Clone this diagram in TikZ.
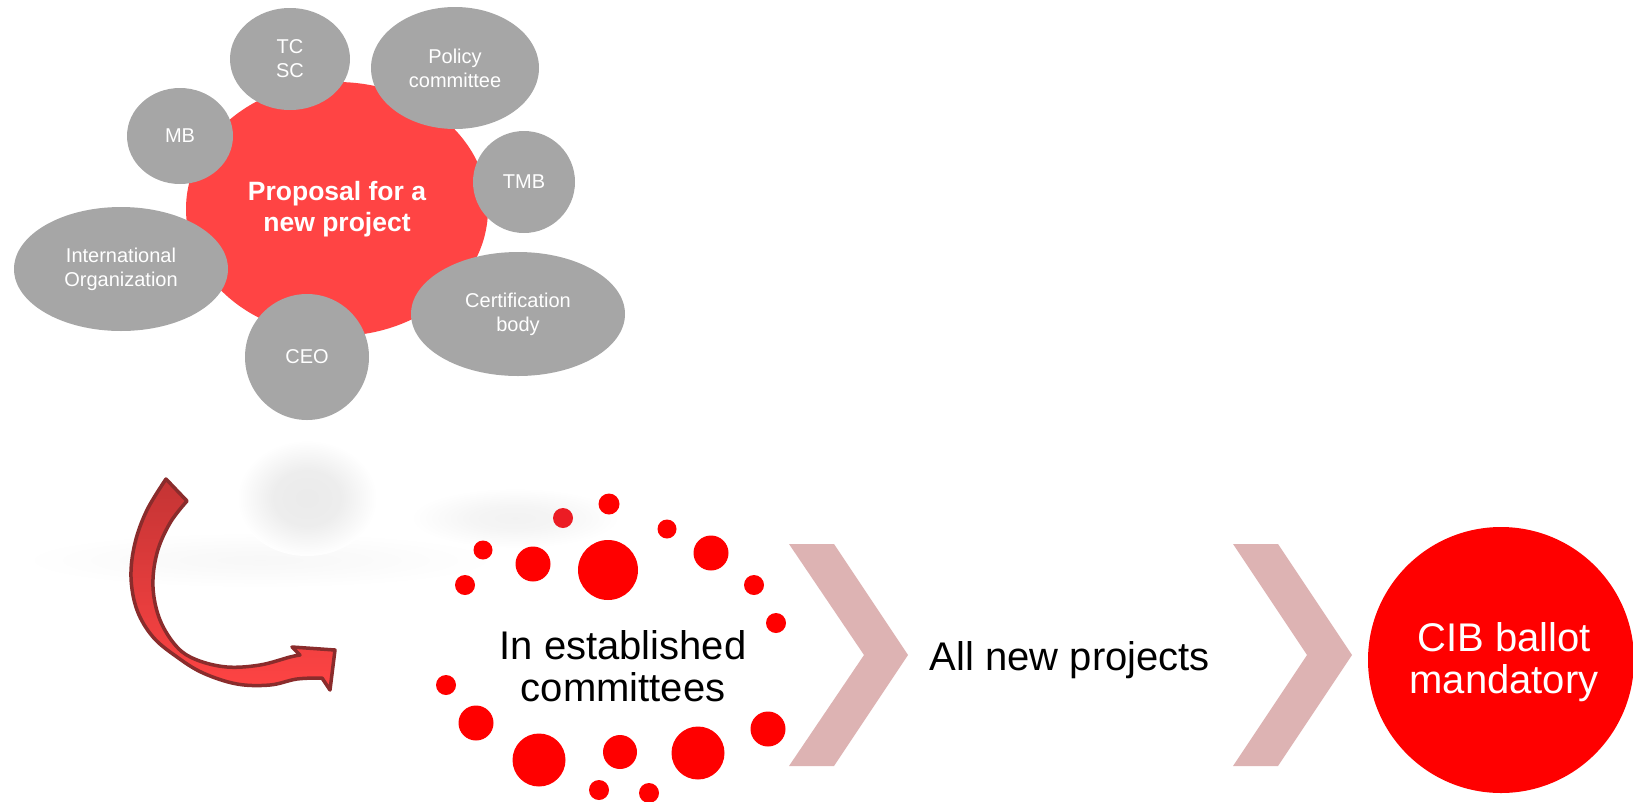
\documentclass[tikz,border=0pt]{standalone}
\usepackage{fontspec}
\setmainfont{Liberation Sans}
\usetikzlibrary{shapes.geometric}
\definecolor{bubred}{HTML}{FF4444}
\definecolor{bubgray}{HTML}{A6A6A6}
\definecolor{chev}{HTML}{DDB3B3}
\definecolor{arrowline}{HTML}{8A2C2C}
\definecolor{arrowtop}{HTML}{C43434}
\definecolor{arrowbot}{HTML}{FF4444}
\definecolor{dotdark}{HTML}{EC1C24}
\pgfdeclareradialshading{ghost}{\pgfpoint{0bp}{0bp}}{color(0bp)=(black!8); color(12bp)=(black!7); color(25bp)=(white); color(50bp)=(white)}
\pgfdeclareradialshading{ghostlight}{\pgfpoint{0bp}{0bp}}{color(0bp)=(black!5); color(10bp)=(black!4); color(25bp)=(white); color(50bp)=(white)}
\pgfdeclareradialshading{ghostfaint}{\pgfpoint{0bp}{0bp}}{color(0bp)=(black!3); color(10bp)=(black!2); color(25bp)=(white); color(50bp)=(white)}
\begin{document}
\begin{tikzpicture}[x=1pt,y=-1pt,
  bubble/.style={ellipse, fill=bubgray, text=white, inner sep=0pt, align=center,
                 font=\fontsize{20}{24}\selectfont},
  hub/.style={ellipse, fill=bubred, text=white, inner sep=0pt, align=center,
              font=\fontsize{26.5}{31}\selectfont\bfseries},
  dot/.style={circle, fill=red, inner sep=0pt},
  chevron/.style={fill=chev},
  bigtxt/.style={inner sep=0pt, align=center, font=\fontsize{40}{41.5}\selectfont},
  curvarrow/.style={top color=arrowtop, bottom color=arrowbot, draw=arrowline,
                    line width=3.5pt, line join=round}]

\useasboundingbox (0,0) rectangle (1633,801);

% faint reflections
\shade[shading=ghostfaint] (260,560) ellipse [x radius=240pt, y radius=28pt];
\shade[shading=ghost] (307,498) ellipse [x radius=70pt, y radius=58pt];
\shade[shading=ghostlight] (515,518) ellipse [x radius=105pt, y radius=30pt];

% central proposal and its sources
\node[hub, minimum width=302pt, minimum height=254pt] (prop) at (337,209) {Proposal for a\\new project};
\node[bubble, minimum width=120pt, minimum height=102pt] (tc) at (290,59) {TC\\SC};
\node[bubble, minimum width=168pt, minimum height=122pt] (policy) at (455,68) {Policy\\committee};
\node[bubble, minimum width=106pt, minimum height=96pt] (mb) at (180,136) {MB};
\node[bubble, minimum width=102pt, minimum height=102pt] (tmb) at (524,182) {TMB};
\node[bubble, minimum width=214pt, minimum height=124pt] (io) at (121,269) {International\\Organization};
\node[bubble, minimum width=214pt, minimum height=124pt] (cert) at (518,314) {Certification\\body};
\node[bubble, minimum width=124pt, minimum height=126pt] (ceo) at (307,357) {CEO};

% curved arrow
\shadedraw[curvarrow]
  (166,479) -- (187,501)
  -- plot[smooth, tension=0.6] coordinates {(187,501) (170,523) (157,553) (153,587) (160,620) (177,647) (197,660) (227,667) (260,665) (290,657) (300,655)}
  -- (292,647) -- (335,650) -- (330,690) -- (322,678)
  -- plot[smooth, tension=0.6] coordinates {(322,678) (297,679) (270,685) (237,684) (203,673) (177,657) (153,637) (137,610) (131,577) (135,543) (147,510) (166,479)}
  -- cycle;

% ring of dots
\node[dot, minimum size=21pt] (d1) at (609,504) {};
\node[dot, minimum size=20pt, fill=dotdark] (d2) at (563,518) {};
\node[dot, minimum size=19pt] (d3) at (667,529) {};
\node[dot, minimum size=19pt] (d4) at (483,550) {};
\node[dot, minimum size=35pt] (d5) at (533,564) {};
\node[dot, minimum size=60pt] (d6) at (608,570) {};
\node[dot, minimum size=35pt] (d7) at (711,553) {};
\node[dot, minimum size=20pt] (d8) at (465,585) {};
\node[dot, minimum size=20pt] (d9) at (754,585) {};
\node[dot, minimum size=20pt] (d10) at (776,623) {};
\node[dot, minimum size=20pt] (d11) at (446,685) {};
\node[dot, minimum size=35pt] (d12) at (476,723) {};
\node[dot, minimum size=53pt] (d13) at (539,760) {};
\node[dot, minimum size=34pt] (d14) at (620,752) {};
\node[dot, minimum size=53pt] (d15) at (698,753) {};
\node[dot, minimum size=35pt] (d16) at (768,729) {};
\node[dot, minimum size=20pt] (d17) at (599,790) {};
\node[dot, minimum size=20pt] (d18) at (649,793) {};

\node[bigtxt] (estab) at (623,666) {In established\\committees};

% chevrons
\fill[chevron] (789,544) -- (834,544) -- (908,655) -- (834,766) -- (789,766) -- (864,655) -- cycle;
\node[bigtxt] (allnew) at (1070,660) {All new projects};
\fill[chevron] (1233,544) -- (1278,544) -- (1352,655) -- (1278,766) -- (1233,766) -- (1307,655) -- cycle;

% CIB ballot
\node[circle, fill=red, minimum size=266pt, inner sep=0pt, text=white, align=center,
      font=\fontsize{40}{41.5}\selectfont] (cib) at (1501,660) {};
\node[inner sep=0pt, text=white, align=center, font=\fontsize{40}{41.5}\selectfont]
      (cibtxt) at (1504,662) {CIB ballot\\mandatory};
\end{tikzpicture}
\end{document}
